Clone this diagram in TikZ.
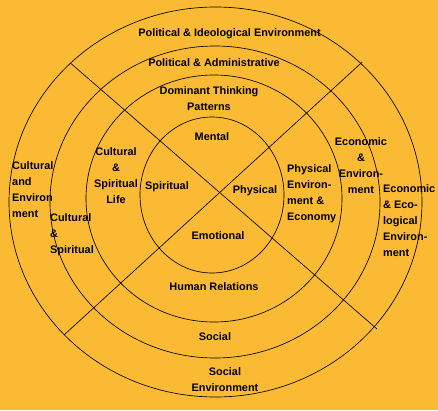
\documentclass[tikz,border=0pt]{standalone}
\usepackage{fontspec}
\setmainfont{Liberation Sans}
\usetikzlibrary{positioning}
\definecolor{bgyellow}{RGB}{251,186,52}

\begin{document}
\begin{tikzpicture}[
    x = 1pt, y = -1pt,
    every node/.style = {font=\bfseries\fontsize{10.9}{16}\selectfont},
    ring/.style = {
        draw,
        line width=0.65pt
    },
    lbl/.style = {
        inner sep=0pt,
        align=center
    },
    lblleft/.style = {
        inner sep=0pt,
        align=left,
        anchor=west
    }
]

\fill[bgyellow] (0,0) rectangle (438,410);
\useasboundingbox (0,0) rectangle (438,410);

\draw[ring] (212,195) ellipse [x radius=72pt, y radius=78pt];
\draw[ring] (214,198.5) ellipse [x radius=128pt, y radius=123.5pt];
\draw[ring] (215,202) ellipse [x radius=165pt, y radius=156pt];
\draw[ring] (215.5,202) ellipse [x radius=206.5pt, y radius=195pt];

\coordinate (nw) at (70.7,63.3);
\coordinate (ne) at (362.3,62);
\coordinate (sw) at (64,335);
\coordinate (se) at (377,329);

\draw[ring] (nw) -- (se);
\draw[ring] (ne) -- (sw);

\node[lbl] (polideo) at (229.5,34) {Political \& Ideological Environment};
\node[lbl] (poladmin) at (214,63) {Political \& Administrative};
\node[lbl] (thinking) at (209,99) {Dominant Thinking\\Patterns};
\node[lbl] (mental) at (212,137) {Mental};

\node[lbl] (spiritual) at (167,187) {Spiritual};
\node[lbl] (physical) at (255,191) {Physical};
\node[lbl] (emotional) at (218,236) {Emotional};

\node[lbl] (human) at (214,287) {Human Relations};
\node[lbl] (social) at (215,337) {Social};
\node[lbl] (socenv) at (225,380) {Social\\Environment};

\node[lbl] (culspirlife) at (116,176) {Cultural\\\&\\Spiritual\\Life};
\node[lblleft] (culspir) at (50,235) {Cultural\\\&\\Spiritual};
\node[lblleft] (culenv) at (12,190) {Cultural\\and\\Environ\\ment};

\node[lblleft] (physenv) at (287,194) {Physical\\Environ-\\ment \&\\Economy};
\node[lbl] (econenv) at (361,166) {Economic\\\&\\Environ-\\ment};
\node[lblleft] (econeco) at (383,221) {Economic\\\& Eco-\\logical\\Environ-\\ment};

\end{tikzpicture}
\end{document}
